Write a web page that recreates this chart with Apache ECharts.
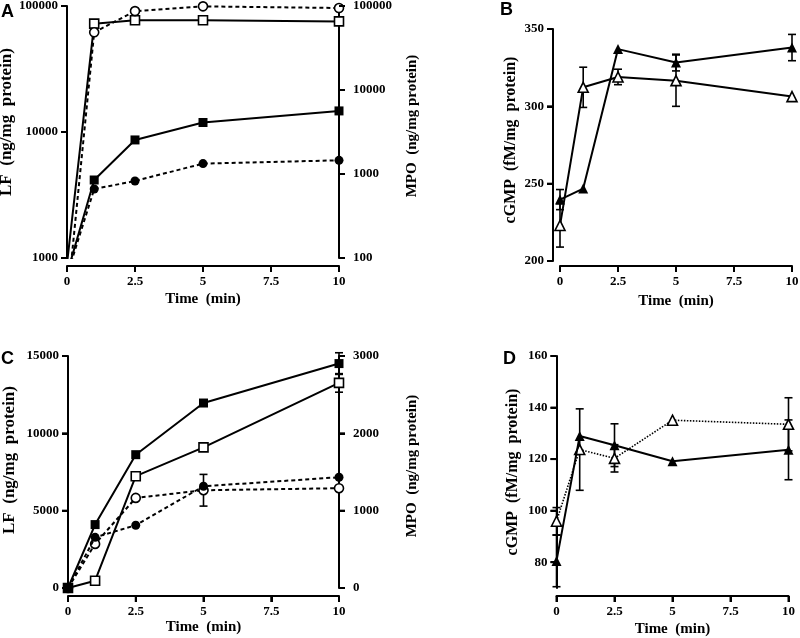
<!DOCTYPE html>
<html><head><meta charset="utf-8">
<script src="https://cdn.jsdelivr.net/npm/echarts@6/dist/echarts.min.js"></script>
<style>html,body{margin:0;padding:0;background:#fff}#c{width:800px;height:638px}</style>
</head><body><div id="c"></div>
<script>
// ---- data ----
const timeMin = [0, 1, 2.5, 5, 10];
const xTicks = [0, 2.5, 5, 7.5, 10];
// Panel A (log scales)
const aLfOpen = [900, 72400, 77000, 77000, 75500];
const aLfFilled = [750, 4160, 8650, 11900, 14700];
const aMpoOpen = [28, 48600, 87000, 99000, 94600];
const aMpoFilled = [62, 662, 826, 1330, 1455];
const aLfTicks = [1000, 10000, 100000];
const aMpoTicks = [100, 1000, 10000, 100000];
// Panel B
const bFilled = [239.7, 246.8, 337, 328.3, 338];
const bFilledErr = [6.5, 0, 0, 5.4, 8.5];
const bOpen = [223, 312.3, 319, 316.6, 306.3];
const bOpenErr = [14, 13, 5, 16.6, 0];
const bTicks = [200, 250, 300, 350];
// Panel C
const cLfFilled = [0, 4100, 8620, 11960, 14510];
const cLfFilledErr = [0, 0, 0, 0, 700];
const cLfOpen = [0, 470, 7230, 9090, 13260];
const cLfOpenErr = [0, 0, 0, 0, 600];
const cMpoFilled = [0, 655, 811, 1316, 1432];
const cMpoOpen = [0, 570, 1165, 1264, 1290];
const cMpoOpenErr = [0, 0, 0, 205, 0];
const cLfTicks = [0, 5000, 10000, 15000];
const cMpoTicks = [0, 1000, 2000, 3000];
// Panel D
const dFilled = [80.5, 129, 125.4, 119.2, 123.6];
const dFilledErr = [10, 0, 8.3, 0, 11.6];
const dOpen = [95.9, 123.7, 120.3, 135.1, 133.5];
const dOpenErr = [5.3, 15.8, 5.3, 0, 10.3];
const dTicks = [80, 100, 120, 140, 160];

// ---- styling helpers ----
const serif = "'Liberation Serif','Times New Roman',serif";
const sans = "'Liberation Sans',Arial,sans-serif";
function lbl(o) { return Object.assign({color:'#000', fontFamily:serif, fontWeight:'bold', fontSize:13}, o); }
function nm(o) { return Object.assign({color:'#000', fontFamily:serif, fontWeight:'bold', fontSize:16}, o); }
function axLine() { return {show:true, onZero:false, lineStyle:{color:'#000', width:2}}; }

function xAx(gi, offset, gap) {
  return {type:'value', gridIndex:gi, min:0, max:10, interval:2.5, offset:offset,
    axisLine:axLine(), axisTick:{show:false},
    axisLabel:lbl({margin:9}),
    splitLine:{show:false}, name:'Time  (min)', nameLocation:'middle', nameGap:gap,
    nameTextStyle:nm({fontSize:15})};
}
function yAx(gi, o) {
  const base = {gridIndex:gi, position:'left', offset:0,
    axisLine:axLine(), axisTick:{show:false},
    axisLabel:lbl({margin:9, formatter:v=>String(Math.round(v))}),
    splitLine:{show:false}, nameLocation:'middle', nameTextStyle:nm({})};
  return Object.assign(base, o);
}
function lineS(xi, yi, vals, symbol, filled, dash, clip, w) {
  return {type:'line', xAxisIndex:xi, yAxisIndex:yi, clip:clip,
    data: timeMin.map((t,i)=>[t, vals[i]]),
    symbol:symbol, symbolSize: symbol==='triangle' ? 10 : 9, showSymbol:true,
    lineStyle:{color:'#000', width:w || 2, type:dash},
    itemStyle:{color: filled ? '#000' : '#fff', borderColor:'#000', borderWidth: filled ? 0 : 1.6},
    z: filled ? 4 : 3, animation:false, silent:true};
}
function errS(xi, yi, vals, errs) {
  const data = [];
  timeMin.forEach((t,i)=>{ if (errs[i] > 0) data.push([t, vals[i], errs[i]]); });
  return {type:'custom', xAxisIndex:xi, yAxisIndex:yi, z:2, silent:true, animation:false, clip:false,
    renderItem:function(params, api){
      const x = api.value(0), y = api.value(1), e = api.value(2);
      const p1 = api.coord([x, y + e]), p2 = api.coord([x, y - e]);
      const w = 4, st = {stroke:'#000', lineWidth:1.6};
      return {type:'group', children:[
        {type:'line', shape:{x1:p1[0], y1:p1[1], x2:p2[0], y2:p2[1]}, style:st},
        {type:'line', shape:{x1:p1[0]-w, y1:p1[1], x2:p1[0]+w, y2:p1[1]}, style:st},
        {type:'line', shape:{x1:p2[0]-w, y1:p2[1], x2:p2[0]+w, y2:p2[1]}, style:st}
      ]};
    },
    encode:{x:0, y:1}, data:data};
}
// tick marks through the axes' own scales (anchor = axis min/max on the other axis)
function tickS(xi, yi, side, vals, anchor, offset) {
  const data = vals.map(v => side === 'x' ? [v, anchor] : [anchor, v]);
  return {type:'custom', xAxisIndex:xi, yAxisIndex:yi, z:10, silent:true, animation:false, clip:false,
    renderItem:function(params, api){
      const p = api.coord([api.value(0), api.value(1)]);
      const L = 6, st = {stroke:'#000', lineWidth:2};
      if (side === 'x') {
        const y0 = p[1] + offset;
        return {type:'line', shape:{x1:p[0], y1:y0, x2:p[0], y2:y0 + L}, style:st};
      }
      if (side === 'left') {
        const x0 = p[0] - offset;
        return {type:'line', shape:{x1:x0 - L, y1:p[1], x2:x0, y2:p[1]}, style:st};
      }
      const x0 = p[0] + offset;
      return {type:'line', shape:{x1:x0, y1:p[1], x2:x0 + L, y2:p[1]}, style:st};
    },
    encode:{x:0, y:1}, data:data};
}
function rightLbl() { return lbl({margin:14, formatter:v=>String(Math.round(v))}); }

// main panel grids
const panelGrids = [
  {left:67, top:6, width:272, height:252, outerBoundsMode:'none'},
  {left:560, top:29, width:232, height:232, outerBoundsMode:'none'},
  {left:68, top:356, width:271, height:232, outerBoundsMode:'none'},
  {left:556.5, top:356, width:232, height:232, outerBoundsMode:'none'}
];
// thin strip grids placed where tick marks go; their split lines form the ticks
const stripDefs = [
  {dim:'x', geo:{left:67, top:266, width:272, height:6}, ax:{min:0, max:10, interval:2.5}},
  {dim:'y', geo:{left:61, top:6, width:6, height:252}, ax:{type:'log', logBase:10, min:1000, max:100000}},
  {dim:'y', geo:{left:339, top:6, width:6, height:252}, ax:{type:'log', logBase:10, min:100, max:100000}},
  {dim:'x', geo:{left:560, top:266, width:232, height:6}, ax:{min:0, max:10, interval:2.5}},
  {dim:'y', geo:{left:547, top:29, width:6, height:232}, ax:{min:200, max:350, interval:50}},
  {dim:'x', geo:{left:68, top:596, width:271, height:6}, ax:{min:0, max:10, interval:2.5}},
  {dim:'y', geo:{left:62, top:356, width:6, height:232}, ax:{min:0, max:15000, interval:5000}},
  {dim:'y', geo:{left:339, top:356, width:6, height:232}, ax:{min:0, max:3000, interval:1000}},
  {dim:'x', geo:{left:556.5, top:596, width:232, height:6}, ax:{min:0, max:10, interval:2.5}},
  {dim:'y', geo:{left:550.5, top:356, width:6, height:206.2}, ax:{min:80, max:160, interval:20}}
];
const stripGrids = [], stripX = [], stripY = [];
stripDefs.forEach((d, i) => {
  const gi = 4 + i;
  stripGrids.push(Object.assign({outerBoundsMode:'none'}, d.geo));
  const shown = Object.assign({type:'value', gridIndex:gi, axisLine:{show:false}, axisTick:{show:false},
    axisLabel:{show:false}, splitLine:{show:true, showMinLine:true, showMaxLine:true,
    lineStyle:{color:'#000', width:2, type:'solid'}}}, d.ax);
  const hidden = {type:'value', gridIndex:gi, show:false, splitLine:{show:false}};
  if (d.dim === 'x') { stripX.push(shown); stripY.push(hidden); }
  else { stripY.push(shown); stripX.push(hidden); }
});

const option = {
  backgroundColor:'#fff',
  animation:false,
  grid: panelGrids.concat(stripGrids),
  xAxis:[ xAx(0, 8, 26), xAx(1, 5, 28), xAx(2, 8, 24), xAx(3, 8, 26) ].concat(stripX),
  yAxis:[
    yAx(0, {type:'log', logBase:10, min:1000, max:100000, name:'LF  (ng/mg  protein)', nameGap:50,
      nameTextStyle:nm({fontSize:17, padding:[0,0,0,20]})}),
    yAx(0, {type:'log', logBase:10, min:100, max:100000, position:'right', name:'MPO  (ng/mg protein)', nameGap:66,
      nameTextStyle:nm({fontSize:15, padding:[0,0,0,12]}), axisLabel:rightLbl()}),
    yAx(1, {type:'value', min:200, max:350, interval:50, offset:7, name:'cGMP  (fM/mg  protein)', nameGap:34,
      nameTextStyle:nm({padding:[0,0,0,10]})}),
    yAx(2, {type:'value', min:0, max:15000, interval:5000, name:'LF  (ng/mg  protein)', nameGap:50,
      nameTextStyle:nm({fontSize:17, padding:[0,0,0,24]})}),
    yAx(2, {type:'value', min:0, max:3000, interval:1000, position:'right', name:'MPO  (ng/mg protein)', nameGap:66,
      nameTextStyle:nm({fontSize:15, padding:[0,0,0,12]}), axisLabel:rightLbl()}),
    yAx(3, {type:'value', min:70, max:160, name:'cGMP  (fM/mg  protein)', nameGap:36,
      axisLabel:lbl({margin:9, customValues:dTicks, formatter:v=>String(Math.round(v))})})
  ].concat(stripY),
  series:[
    // tick marks (custom, via axis scales)
    tickS(0, 0, 'x', xTicks, 1000, 8),
    tickS(0, 0, 'left', aLfTicks, 0, 0),
    tickS(0, 1, 'right', aMpoTicks, 10, 0),
    tickS(1, 2, 'x', xTicks, 200, 5),
    tickS(1, 2, 'left', bTicks, 0, 7),
    tickS(2, 3, 'x', xTicks, 0, 8),
    tickS(2, 3, 'left', cLfTicks, 0, 0),
    tickS(2, 4, 'right', cMpoTicks, 10, 0),
    tickS(3, 5, 'x', xTicks, 70, 8),
    tickS(3, 5, 'left', dTicks, 0, 0),
    // A
    lineS(0, 0, aLfOpen, 'rect', false, 'solid', true),
    lineS(0, 0, aLfFilled, 'rect', true, 'solid', true),
    lineS(0, 1, aMpoOpen, 'circle', false, [4,3], true),
    lineS(0, 1, aMpoFilled, 'circle', true, [4,3], true),
    // B
    errS(1, 2, bFilled, bFilledErr),
    errS(1, 2, bOpen, bOpenErr),
    lineS(1, 2, bOpen, 'triangle', false, 'solid', false),
    lineS(1, 2, bFilled, 'triangle', true, 'solid', false),
    // C
    errS(2, 3, cLfFilled, cLfFilledErr),
    errS(2, 3, cLfOpen, cLfOpenErr),
    errS(2, 4, cMpoOpen, cMpoOpenErr),
    lineS(2, 4, cMpoOpen, 'circle', false, [4,3], false),
    lineS(2, 4, cMpoFilled, 'circle', true, [4,3], false),
    lineS(2, 3, cLfOpen, 'rect', false, 'solid', false),
    lineS(2, 3, cLfFilled, 'rect', true, 'solid', false),
    // D
    errS(3, 5, dFilled, dFilledErr),
    errS(3, 5, dOpen, dOpenErr),
    lineS(3, 5, dOpen, 'triangle', false, [1.5,1.5], false, 1.6),
    lineS(3, 5, dFilled, 'triangle', true, 'solid', false)
  ],
  graphic:[
    {type:'text', left:1, top:3, style:{text:'A', font:'bold 18px ' + sans, fill:'#000'}},
    {type:'text', left:500, top:1, style:{text:'B', font:'bold 18px ' + sans, fill:'#000'}},
    {type:'text', left:1, top:350, style:{text:'C', font:'bold 18px ' + sans, fill:'#000'}},
    {type:'text', left:503, top:350, style:{text:'D', font:'bold 18px ' + sans, fill:'#000'}}
  ]
};
const chart = echarts.init(document.getElementById('c'), null, {renderer:'canvas'});
chart.setOption(option);
</script>
</body></html>
